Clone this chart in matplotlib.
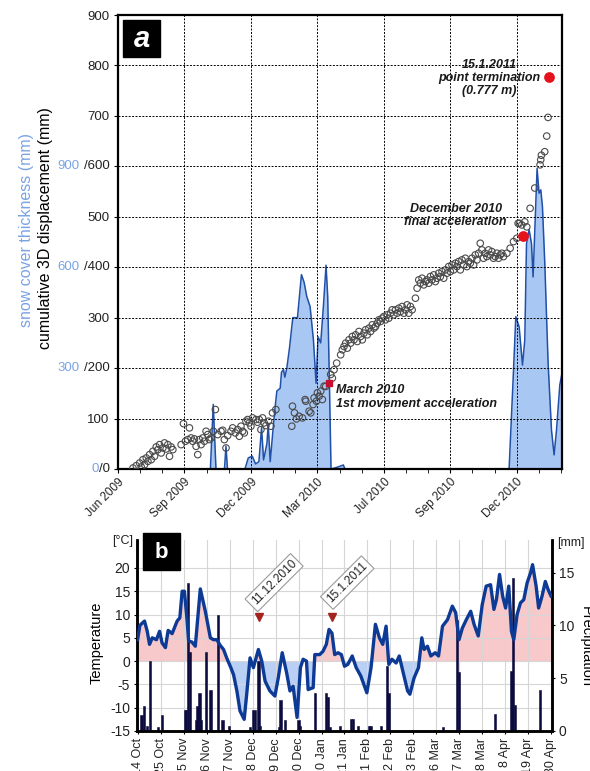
import numpy as np
import matplotlib.pyplot as plt
from matplotlib.offsetbox import TextArea, HPacker, AnnotationBbox

plt.rcParams['font.family'] = ['Liberation Sans', 'DejaVu Sans']

# ---------------- panel a data ----------------
month_labels = ['Jun 2009', 'Sep 2009', 'Dec 2009', 'Mar 2010', 'Jul 2010', 'Sep 2010', 'Dec 2010']

# cumulative 3D displacement (x in tick units, mm)
disp_x = [0.225, 0.275, 0.325, 0.35, 0.375, 0.40, 0.425, 0.45, 0.475, 0.50, 0.525, 0.55, 0.575, 0.60,
          0.625, 0.65, 0.675, 0.70, 0.725, 0.75, 0.775, 0.80, 0.825, 0.95, 0.985, 1.015, 1.05, 1.075,
          1.10, 1.125, 1.15, 1.175, 1.20, 1.225, 1.25, 1.275, 1.30, 1.325, 1.35, 1.375, 1.40, 1.435,
          1.465, 1.50, 1.55, 1.575, 1.60, 1.625, 1.65, 1.70, 1.725, 1.765, 1.80, 1.825, 1.85, 1.875,
          1.90, 1.925, 1.95, 1.975, 2.0, 2.025, 2.075, 2.10, 2.125, 2.15, 2.175, 2.20, 2.225, 2.265,
          2.30, 2.325, 2.375, 2.615, 2.625, 2.655, 2.685, 2.725, 2.775, 2.815, 2.825, 2.875, 2.90,
          2.935, 2.95, 2.985, 3.0, 3.025, 3.05, 3.075, 3.10, 3.125, 3.20, 3.225, 3.25, 3.29, 3.35,
          3.375, 3.40, 3.425, 3.45, 3.475, 3.50, 3.525, 3.55, 3.575, 3.60, 3.625, 3.65, 3.675, 3.70,
          3.725, 3.75, 3.775, 3.80, 3.825, 3.85, 3.875, 3.90, 3.925, 3.95, 3.975, 4.0, 4.025, 4.05,
          4.075, 4.10, 4.125, 4.15, 4.175, 4.20, 4.225, 4.25, 4.275, 4.30, 4.325, 4.35, 4.375, 4.40,
          4.425, 4.475, 4.50, 4.525, 4.55, 4.575, 4.60, 4.625, 4.65, 4.675, 4.70, 4.725, 4.75, 4.775,
          4.80, 4.825, 4.85, 4.875, 4.90, 4.925, 4.95, 4.975, 5.0, 5.025, 5.05, 5.075, 5.10, 5.125,
          5.15, 5.175, 5.20, 5.225, 5.25, 5.275, 5.30, 5.325, 5.35, 5.375, 5.40, 5.425, 5.45, 5.475,
          5.50, 5.525, 5.55, 5.575, 5.60, 5.625, 5.65, 5.675, 5.70, 5.725, 5.75, 5.775, 5.80, 5.85,
          5.90, 5.95, 6.0, 6.02, 6.04, 6.075, 6.12, 6.15, 6.20, 6.27, 6.35, 6.36, 6.37, 6.42, 6.45, 6.47]
disp_mm = [2, 6.6, 11.9, 4, 18.5, 8.6, 21.9, 15.2, 28.5, 18.5, 35.1, 25.2, 43.7, 38.4,
           48.3, 31.8, 41.7, 51.7, 39.7, 48.3, 25.2, 43.7, 38.4, 48.3, 90, 55, 58.3, 81.5,
           61.6, 55, 59.6, 45, 28.5, 58.3, 48.3, 61.6, 55, 74.8, 68.2, 58.3, 61.6, 74.8,
           117.9, 68.2, 74.8, 76.8, 58.3, 41.7, 66.2, 74.8, 81.5, 71.5, 78.1, 64.9, 84.8, 74.8,
           71.5, 94.7, 98, 91.4, 84.8, 101.3, 98, 92.7, 98, 78.1, 101.3, 91.4, 86.1, 94.7,
           84.8, 111.3, 117.9, 84.8, 124.5, 111.3, 99.3, 104.6, 101.3, 137.7, 134.4, 114.6, 111.3,
           127.8, 141, 134.4, 151, 144.4, 154.3, 137.7, 164.2, 163.7, 187.4, 180.2, 196.7, 209.9, 226.4,
           236.3, 242.9, 249.5, 239.6, 256.1, 249.5, 262.7, 256.1, 266, 252.8, 272.6, 262.7, 256.1, 269.3,
           275.9, 266, 279.2, 272.6, 285.8, 279.2, 282.5, 289.1, 295.7, 292.4, 299, 302.3, 295.7, 305.6,
           299, 308.9, 315.5, 305.6, 315.5, 308.9, 318.8, 312.2, 322.1, 308.9, 315.5, 325.4, 308.9, 322.1,
           315.5, 338.6, 358.4, 374.9, 368.3, 378.2, 365, 371.6, 374.9, 368.3, 381.5, 374.9, 384.8, 371.6,
           378.2, 388.1, 381.5, 391.4, 378.2, 394.7, 388.1, 401.3, 391.4, 404.6, 394.7, 407.9, 401.3, 411.2,
           394.7, 414.5, 404.6, 417.8, 401.3, 411.2, 407.9, 417.8, 404.6, 424.4, 414.5, 427.7, 447.5, 434.3,
           417.8, 427.7, 421.1, 434.3, 424.4, 431, 417.8, 421.1, 427.7, 417.8, 424.4, 427.7, 421.1, 427.7,
           437.6, 450.8, 457.4, 487, 487.1, 483.8, 490, 480, 516.8, 557, 603, 613, 622, 629, 660, 697]

accel_x = [3.17, 6.09]
accel_mm = [170, 461]
term_x = [6.49]
term_mm = [777]

# snow cover thickness (x in tick units, mm of snow)
snow_x = [1.39, 1.433, 1.474, 1.602, 1.624, 1.647, 1.91, 1.96, 2.02, 2.07, 2.12, 2.16, 2.19, 2.24,
          2.26, 2.29, 2.33, 2.36, 2.39, 2.44, 2.46, 2.49, 2.51, 2.54, 2.58, 2.63, 2.70, 2.76, 2.80,
          2.84, 2.89, 2.94, 2.98, 3.01, 3.05, 3.09, 3.13, 3.155, 3.18, 3.205, 3.31, 3.39, 3.415,
          5.884, 5.944, 5.985, 6.035, 6.086, 6.12, 6.146, 6.185, 6.221, 6.245, 6.271, 6.305, 6.335,
          6.361, 6.386, 6.421, 6.471, 6.522, 6.561, 6.597, 6.647, 6.68]
snow_mm = [0, 192, 0, 0, 68, 0, 0, 33, 38, 15, 22, 123, 27, 75,
           132, 22, 112, 177, 232, 240, 288, 296, 273, 300, 360, 450, 450, 578, 555,
           513, 483, 384, 255, 393, 375, 483, 606, 513, 264, 0, 6, 12, 0,
           0, 264, 453, 423, 309, 384, 670, 712, 670, 571, 711, 894, 820,
           830, 780, 612, 315, 115, 42, 115, 250, 285]

# ---------------- panel b data ----------------
date_labels = ['14 Oct', '25 Oct', '5 Nov', '16 Nov', '27 Nov', '8 Dec', '19 Dec', '30 Dec', '10 Jan',
               '21 Jan', '1 Feb', '12 Feb', '23 Feb', '6 Mar', '17 Mar', '28 Mar', '8 Apr', '19 Apr', '30 Apr']

# days since 14 Oct 2010
temp_day = [0, 1.1, 3.3, 4.6, 5.7, 7.0, 9.0, 10.5, 11.7, 13.3, 14.6, 16.5, 18.9, 20.2, 21.3, 22.4, 23.7,
            24.4, 26.0, 27.6, 30.0, 31.3, 32.4, 34.8, 36.3, 37.9, 39.5, 41.1, 42.7, 44.6, 45.9, 47.5, 49.0,
            51.0, 52.2, 53.8, 55.4, 57.8, 59.4, 61.0, 63.3, 65.7, 67.3, 69.2, 71.3, 72.9, 74.4, 76.3, 77.9,
            79.2, 80.8, 81.6, 84.0, 84.8, 87.1, 88.7, 90.3, 91.6, 93.0, 94.3, 95.9, 97.5, 99.0, 100.6, 102.7,
            104.6, 106.8, 109.7, 111.7, 113.8, 115.7, 117.3, 118.9, 120.2, 121.7, 123.7, 125.2, 127.1, 129.2,
            130.3, 132.3, 134.4, 136.0, 137.1, 138.7, 140.3, 142.4, 144.0, 145.9, 148.3, 150.6, 152.2, 153.8,
            155.4, 157.3, 159.4, 161.0, 163.0, 164.9, 166.8, 168.9, 170.5, 171.7, 173.2, 174.7, 176.1, 177.6,
            178.9, 180.0, 181.6, 183.2, 184.8, 186.4, 188.0, 189.0, 190.7, 191.9, 193.5, 195.1, 196.4, 197.8]
temp_c = [4.6, 7.7, 8.6, 6.4, 3.6, 5.0, 4.6, 6.4, 3.9, 2.9, 6.6, 5.9, 8.6, 9.3, 15.0, 15.0, 8.6,
          4.3, 4.1, 3.2, 15.5, 12.9, 10.7, 5.0, 4.6, 4.6, 3.4, 2.5, 0.6, -1.4, -2.9, -6.4, -10.7,
          -12.5, -7.1, 0.7, -1.4, 2.5, 0.0, -4.3, -6.4, -7.5, -3.6, 1.8, -2.5, -6.4, -5.4, -12.1, -1.4,
          0.4, 0.0, -6.1, -5.7, 1.4, 1.4, 2.1, 3.6, 6.8, 6.0, 1.4, 1.8, 1.4, -1.1, -0.7, 1.1,
          -1.4, -3.2, -6.8, -1.4, 7.9, 5.0, 3.6, 7.5, -0.7, 0.4, -0.4, 1.1, -2.5, -6.4,
          -7.1, -3.6, -1.4, 5.0, 2.5, 3.2, 1.1, 1.8, 1.1, 7.5, 8.9, 11.8, 10.4, 4.6,
          7.1, 8.9, 10.7, 7.9, 5.4, 12.1, 16.1, 16.4, 11.1, 13.2, 18.6, 13.9, 11.4, 16.1,
          6.4, 4.6, 10.0, 12.5, 13.2, 16.8, 18.9, 20.7, 16.1, 11.4, 13.9, 17.1, 15.4, 14.0]

precip_day = [1.9, 3.0, 4.6, 5.9, 9.9, 11.7, 22.6, 23.2, 24.0, 24.9, 27.9, 28.7, 29.6, 30.3, 32.7, 34.9,
              38.5, 40.6, 43.6, 53.8, 55.1, 56.1, 57.8, 58.6, 67.6, 68.4, 70.4, 77.0, 77.8, 84.8, 90.3,
              91.1, 92.0, 96.7, 102.2, 103.0, 105.4, 110.6, 111.4, 116.5, 119.2, 120.0, 146.2, 153.0,
              153.8, 170.9, 178.9, 179.7, 180.6, 192.7]
precip_mm = [1.5, 2.4, 0.5, 6.6, 0.4, 1.5, 2.0, 2.0, 14.0, 7.5, 1.0, 2.4, 3.6, 1.0, 7.5, 3.9,
             11.0, 1.0, 0.5, 0.4, 2.0, 2.0, 6.6, 0.5, 0.4, 2.9, 1.0, 1.0, 0.5, 3.6, 3.6,
             3.2, 0.4, 0.5, 1.1, 1.1, 0.5, 0.5, 0.5, 0.5, 6.2, 3.6, 0.4, 10.5,
             5.6, 1.6, 5.7, 14.5, 2.5, 3.9]

event_day = [58, 93]
event_temp = [9.4, 9.4]
event_labels = ['11.12.2010', '15.1.2011']

snow_blue = '#7ba3e3'
fill_blue = '#a9c7f3'
line_blue = '#2150a8'

fig = plt.figure(figsize=(5.9, 7.71), dpi=100)

# ================= panel a =================
ax = fig.add_axes([118 / 590, 1 - 469 / 771, 444 / 590, 454 / 771])
snow_disp = np.array(snow_mm) * 600 / 900  # snow scale: 900 mm <-> 600 mm displacement
ax.fill_between(snow_x, snow_disp, 0, color=fill_blue, lw=0, zorder=0.5)
ax.plot(snow_x, snow_disp, color=line_blue, lw=1.1, zorder=0.6)
ax.scatter(disp_x, disp_mm, s=22, facecolors='none', edgecolors='#4a4a4a', linewidths=0.8, zorder=3)
ax.scatter(accel_x[:1], accel_mm[:1], s=22, marker='s', color='#c8102e', zorder=4)
ax.scatter(accel_x[1:], accel_mm[1:], s=45, color='#e3121b', zorder=4)
ax.scatter(term_x, term_mm, s=45, color='#e3121b', zorder=4)

ax.set_xlim(0, 6.68)
ax.set_ylim(0, 900)
ax.set_xticks(range(len(month_labels)))
ax.set_xticklabels(month_labels, rotation=45, ha='right', rotation_mode='anchor', fontsize=8.5, color='#222')
ax.set_xticks(np.arange(0, 6.68, 1 / 3), minor=True)
yt = np.arange(0, 901, 100)
ax.set_yticks(yt)
blue_ticks = [0, 200, 400, 600]
ax.set_yticklabels(['' if v in blue_ticks else str(v) for v in yt], fontsize=9.5, color='#222')
ax.tick_params(axis='y', length=3, pad=3)
ax.tick_params(axis='x', which='both', length=3, pad=2)
ax.set_axisbelow(False)
ax.grid(True, which='major', color='black', linestyle=(0, (2, 1.5)), linewidth=0.7, zorder=1)
for s in ax.spines.values():
    s.set_linewidth(1.6)

for v in blue_ticks:
    parts = [TextArea(f'{int(v * 900 / 600)}', textprops=dict(color=snow_blue, fontsize=9.5)),
             TextArea(f'/{v}', textprops=dict(color='#222', fontsize=9.5))]
    box = HPacker(children=parts, align='center', pad=0, sep=0 if v == 0 else 3)
    ab = AnnotationBbox(box, (0, v), xycoords=('axes fraction', 'data'), xybox=(-6, 0),
                        boxcoords='offset points', box_alignment=(1, 0.5), frameon=False,
                        annotation_clip=False)
    ax.add_artist(ab)

note = dict(fontsize=9, fontweight='bold', fontstyle='italic', color='#1a1a1a', linespacing=1.15)
ax.text(5.58, 775, '15.1.2011\npoint termination\n(0.777 m)', ha='center', va='center', **note)
ax.text(5.08, 502, 'December 2010\nfinal acceleration', ha='center', va='center', **note)
ax.text(3.28, 143, 'March 2010\n1st movement acceleration', ha='left', va='center', **note)

fig.text(27 / 590, 1 - 230 / 771, 'snow cover thickness (mm)', rotation=90, color=snow_blue,
         fontsize=11.5, ha='center', va='center')
fig.text(46 / 590, 1 - 228 / 771, 'cumulative 3D displacement (mm)', rotation=90, color='black',
         fontsize=11.5, ha='center', va='center')

fig.add_artist(plt.Rectangle((123 / 590, 1 - 57 / 771), 37 / 590, 37 / 771, transform=fig.transFigure,
                             color='black', zorder=10))
fig.text(141.5 / 590, 1 - 39 / 771, 'a', color='white', fontsize=21, fontweight='bold', fontstyle='italic',
         ha='center', va='center', zorder=11)

# ================= panel b =================
axb = fig.add_axes([137 / 590, 1 - 731 / 771, 415 / 590, 191 / 771])
axp = axb.twinx()

tday = np.array(temp_day)
tc = np.array(temp_c)
axb.fill_between(tday, tc, 0, where=tc >= 0, interpolate=True, color='#f7c9cb', lw=0, zorder=1)
axb.fill_between(tday, tc, 0, where=tc <= 0, interpolate=True, color='#b9cff3', lw=0, zorder=1)
axb.set_xlim(-0.3, 198.3)
axb.set_ylim(-15, 26)
axb.set_yticks(np.arange(-15, 21, 5))
axb.set_yticklabels([str(v) for v in range(-15, 21, 5)], fontsize=10, color='#222')
axb.set_xticks(np.arange(0, 199, 11))
axb.set_xticklabels(date_labels, rotation=90, ha='center', va='top', fontsize=9, color='#222')
axb.grid(True, color='#d6d6d6', linewidth=0.8)
axb.tick_params(length=2, pad=3)

axp.bar(precip_day, precip_mm, width=1.1, color='#0b0b3e', edgecolor='#0b0b3e', linewidth=0.4, zorder=2)
axp.plot(tday, tc, color='#0d3a95', lw=2.4, zorder=3, transform=axb.transData)
axp.set_ylim(0, 18.1)
axp.set_yticks([0, 5, 10, 15])
axp.set_yticklabels(['0', '5', '10', '15'], fontsize=10, color='#222')
axp.tick_params(length=2, pad=3)

for a in (axb, axp):
    a.spines['top'].set_visible(False)
    for side in ('left', 'right', 'bottom'):
        a.spines[side].set_linewidth(1.8)

for d, t, lab in zip(event_day, event_temp, event_labels):
    axp.plot([d], [t], marker='v', color='#a3231f', markersize=6, transform=axb.transData, zorder=4)
    axb.annotate(lab, xy=(d, t), xytext=(11, 25), textcoords='offset points', rotation=45,
                 rotation_mode='anchor', ha='center', va='center', fontsize=8.5, color='#222',
                 bbox=dict(boxstyle='square,pad=0.25', fc='white', ec='#9a9a9a', lw=0.8),
                 annotation_clip=False, zorder=5)

fig.text(123 / 590, 1 - 541 / 771, '[°C]', fontsize=9, ha='center', va='center', color='#222')
fig.text(571 / 590, 1 - 543 / 771, '[mm]', fontsize=9, ha='center', va='center', color='#222')
fig.text(97 / 590, 1 - 643 / 771, 'Temperature', rotation=90, fontsize=10.5, ha='center', va='center')
fig.text(586 / 590, 1 - 647 / 771, 'Precipitation', rotation=270, fontsize=10.5, ha='center', va='center')

fig.add_artist(plt.Rectangle((143 / 590, 1 - 570 / 771), 37 / 590, 37 / 771, transform=fig.transFigure,
                             color='black', zorder=10))
fig.text(161.5 / 590, 1 - 552 / 771, 'b', color='white', fontsize=16, fontweight='bold',
         ha='center', va='center', zorder=11)

fig.savefig('out.png', dpi=100)
